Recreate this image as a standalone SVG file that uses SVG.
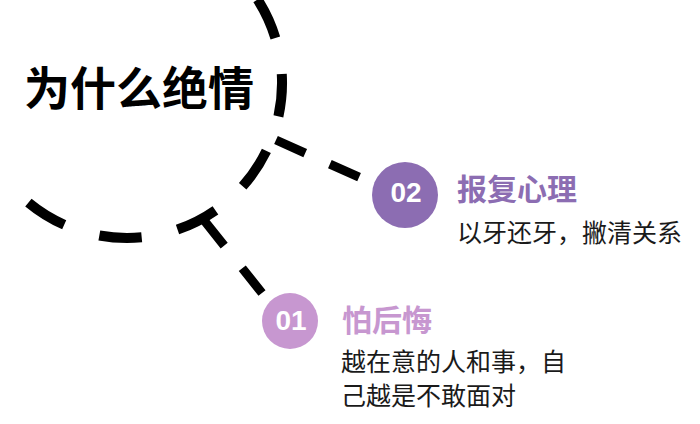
<svg xmlns="http://www.w3.org/2000/svg" width="700" height="424" viewBox="0 0 700 424">
  <style>
    .arc { fill: none; stroke: #000; stroke-width: 10; stroke-dasharray: 42.5 36.7; }
    .conn { fill: none; stroke: #000; stroke-width: 9; }
    .title { font-family: "Noto Sans CJK SC", "Noto Sans", sans-serif; font-weight: 700; font-size: 46px; fill: #000; }
    .head { font-family: "Noto Sans CJK SC", "Noto Sans", sans-serif; font-weight: 700; font-size: 30px; }
    .body { font-family: "Noto Sans CJK SC", "Noto Sans", sans-serif; font-size: 25px; fill: #1a1a1a; }
    .num { font-family: "Liberation Sans", Arial, sans-serif; font-weight: 700; font-size: 28px; fill: #fff; text-anchor: middle; }
  </style>
  <rect width="700" height="424" fill="#fff"/>
  <g id="title">
    <text class="title" x="24" y="105">为什么绝情</text>
  </g>
  <g id="connectors">
    <path class="arc" d="M 257.6 -0.5 A 155 155 0 0 1 28.4 202.6"/>
    <line class="conn" x1="276" y1="140" x2="361" y2="178" stroke-dasharray="32 27"/>
    <line class="conn" x1="203" y1="219" x2="262" y2="293" stroke-dasharray="34 29"/>
  </g>
  <g id="node-02">
    <circle cx="405" cy="195" r="33" fill="#8c6db2"/>
    <text class="num" x="406" y="202">02</text>
    <text class="head" x="457" y="200" fill="#8c6db2">报复心理</text>
    <text class="body" x="457" y="242">以牙还牙，撇清关系</text>
  </g>
  <g id="node-01">
    <circle cx="290" cy="321" r="28" fill="#c797d0"/>
    <text class="num" x="291" y="330">01</text>
    <text class="head" x="342" y="331" fill="#c797d0">怕后悔</text>
    <text class="body" x="341" y="371">越在意的人和事，自</text>
    <text class="body" x="341" y="405">己越是不敢面对</text>
  </g>
</svg>
